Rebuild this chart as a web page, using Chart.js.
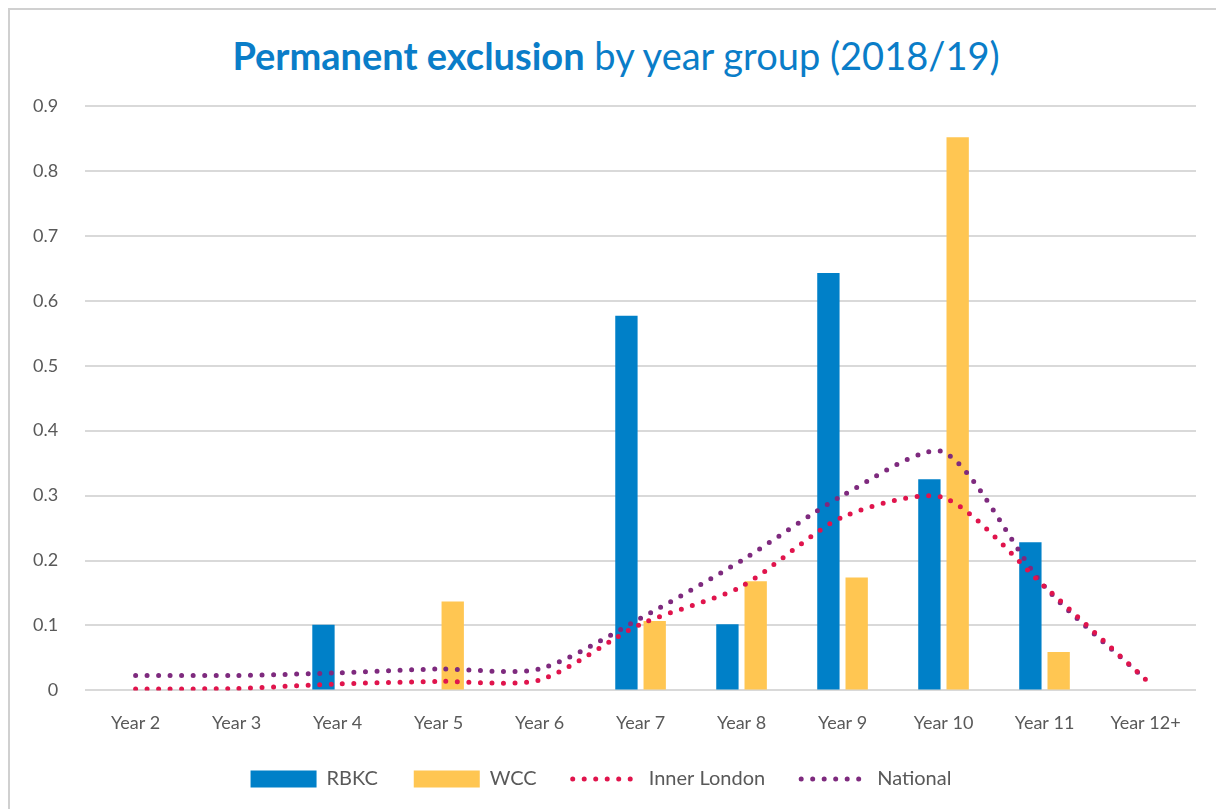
<!DOCTYPE html>
<html>
<head>
<meta charset="utf-8">
<script src="https://cdn.jsdelivr.net/npm/chart.js@4"></script>
<style>
  html, body { margin: 0; padding: 0; background: #fff; }
  body { width: 1216px; height: 809px; position: relative; overflow: hidden; font-family: Lato, "Open Sans", sans-serif; }
  .frame { position: absolute; left: 8px; top: 8px; width: 1240px; height: 840px; border: 2px solid #d0d0d0; box-sizing: border-box; }
  .title { position: absolute; left: 0; top: 32px; width: 1232px; text-align: center; font-size: 38px; color: #0A7DC8; }
  .title b { font-weight: bold; }
  #wrap { position: absolute; left: 0; top: 0; width: 1216px; height: 809px; }
</style>
</head>
<body>
<div class="frame"></div>
<div class="title"><b>Permanent exclusion</b> by year group (2018/19)</div>
<div id="wrap"><canvas id="chart"></canvas></div>
<script>
// categories and series
const yearGroups = ['Year 2', 'Year 3', 'Year 4', 'Year 5', 'Year 6', 'Year 7', 'Year 8', 'Year 9', 'Year 10', 'Year 11', 'Year 12+'];
const rbkc = [null, null, 0.101, null, null, 0.577, 0.102, 0.643, 0.325, 0.228, null];
const wcc = [null, null, null, 0.137, null, 0.107, 0.168, 0.174, 0.852, 0.059, null];
const innerLondon = [0.002, 0.003, 0.010, 0.014, 0.016, 0.102, 0.160, 0.267, 0.297, 0.160, 0.017];
const national = [0.023, 0.023, 0.027, 0.033, 0.033, 0.111, 0.200, 0.300, 0.367, 0.160, 0.017];
const yTicks = [0, 0.1, 0.2, 0.3, 0.4, 0.5, 0.6, 0.7, 0.8, 0.9];

const textGrey = '#595959';
const fontFamily = 'Lato, "Open Sans", sans-serif';

function dottedLine(label, data, color) {
    return {
        type: 'line',
        label: label,
        data: data,
        borderColor: color,
        backgroundColor: color,
        borderWidth: 5,
        borderDash: [0, 11.5],
        borderCapStyle: 'round',
        pointRadius: 0,
        tension: 0.25,
        fill: false,
        order: 0
    };
}

const ctx = document.getElementById('chart').getContext('2d');
new Chart(ctx, {
    type: 'bar',
    data: {
        labels: yearGroups,
        datasets: [
            { label: 'RBKC', data: rbkc, backgroundColor: '#0080C8', order: 1 },
            { label: 'WCC', data: wcc, backgroundColor: '#FFC652', order: 1 },
            dottedLine('Inner London', innerLondon, '#E0144C'),
            dottedLine('National', national, '#7E2A7E')
        ]
    },
    options: {
        responsive: true,
        maintainAspectRatio: false,
        animation: false,
        datasets: {
            bar: { categoryPercentage: 0.56, barPercentage: 0.79 }
        },
        layout: { padding: { left: 6, right: 20, top: 106, bottom: 10 } },
        scales: {
            x: {
                grid: { display: false, drawTicks: false },
                border: { display: false },
                ticks: { color: textGrey, font: { family: fontFamily, size: 18 }, padding: 22, maxRotation: 0 },
                // leave the labels where they are but let the legend sit closer
                afterFit: scale => { scale.height -= 23; }
            },
            y: {
                min: 0,
                max: 0.9,
                afterBuildTicks: axis => { axis.ticks = yTicks.map(v => ({ value: v })); },
                grid: { color: '#d9d9d9', lineWidth: 2, drawTicks: false },
                border: { display: false },
                ticks: { color: textGrey, font: { family: fontFamily, size: 18 }, padding: 27,
                         callback: v => String(Math.round(v * 10) / 10) }
            }
        },
        plugins: {
            tooltip: { enabled: false },
            legend: {
                position: 'bottom',
                labels: {
                    color: textGrey,
                    font: { family: fontFamily, size: 20 },
                    boxWidth: 66,
                    boxHeight: 17,
                    padding: 36,
                    usePointStyle: true,
                    pointStyleWidth: 66,
                    sort: (a, b) => a.datasetIndex - b.datasetIndex,
                    generateLabels: chart => {
                        const items = Chart.defaults.plugins.legend.labels.generateLabels(chart);
                        items.forEach(item => {
                            const ds = chart.data.datasets[item.datasetIndex];
                            if (ds.type === 'line') {
                                item.pointStyle = 'line';
                                item.lineWidth = 5;
                                item.lineDash = [0, 11.5];
                                item.lineCap = 'round';
                                item.strokeStyle = ds.borderColor;
                            } else {
                                item.pointStyle = 'rect';
                                item.lineWidth = 0;
                                item.strokeStyle = 'rgba(0,0,0,0)';
                            }
                        });
                        return items;
                    }
                }
            }
        }
    }
});
</script>
</body>
</html>
